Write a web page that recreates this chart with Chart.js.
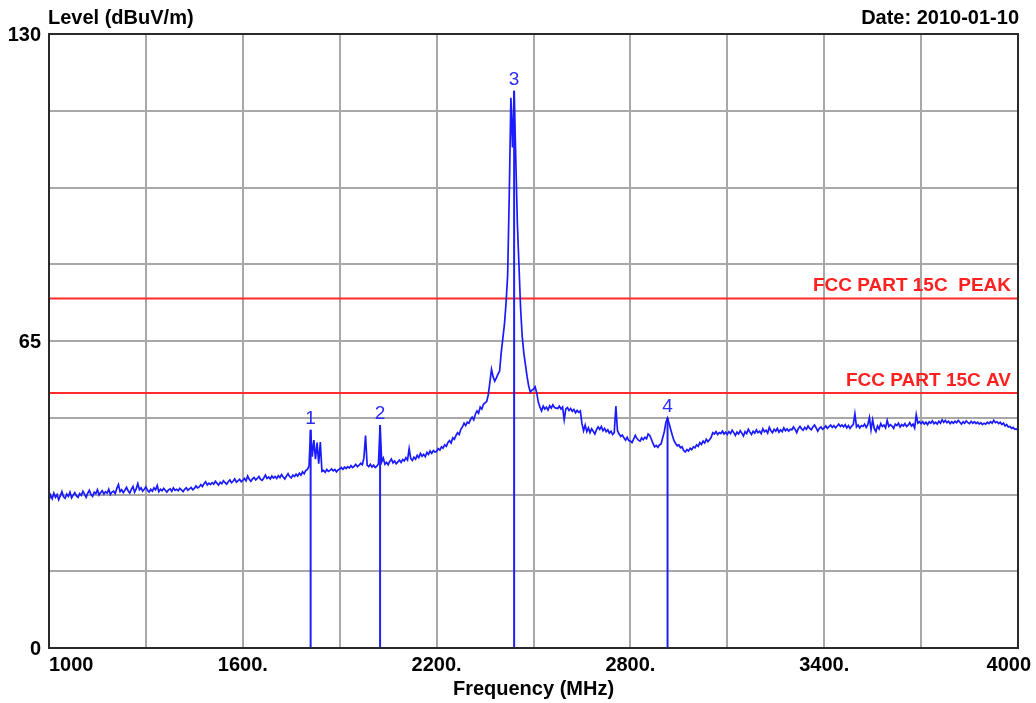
<!DOCTYPE html>
<html>
<head>
<meta charset="utf-8">
<script src="https://cdn.jsdelivr.net/npm/chart.js@4.4.1/dist/chart.umd.min.js"></script>
<style>
  html, body { margin: 0; padding: 0; background: #ffffff; }
  #wrap { width: 1036px; height: 703px; position: relative; }
</style>
</head>
<body>
<div id="wrap"><canvas id="c" width="1036" height="703"></canvas></div>
<script>
// ---- data ----
const sweepStart = 1000;   // MHz
const sweepStep = 5;       // MHz, analyzer sweep grid
const levels = [
 31.2,32.4,31.6,32.8,31.9,32.5,31.4,32.2,33.1,32.0,31.7,32.6,32.1,33.0,31.8,32.4,32.9,32.2,31.9,32.7,
 32.3,33.2,32.6,31.9,32.8,33.4,32.5,32.1,33.0,32.7,33.5,32.4,32.9,33.3,32.6,33.1,32.8,33.6,32.5,33.0,
 33.2,32.7,33.8,34.6,33.1,33.5,32.9,33.4,34.0,33.3,32.8,33.6,34.2,33.0,33.7,34.8,33.5,33.9,33.2,33.6,
 34.1,33.4,33.0,33.6,33.2,33.9,33.5,34.4,33.1,33.6,33.3,33.8,33.4,33.0,33.5,33.7,33.2,33.9,33.4,33.6,
 33.3,33.8,33.5,33.1,33.6,33.9,33.4,33.7,34.0,33.5,33.8,34.3,33.9,34.1,34.6,34.2,34.8,35.2,34.5,34.9,
 34.6,35.0,34.7,35.3,34.9,34.5,35.1,34.8,35.4,35.0,34.7,35.2,35.6,35.0,35.3,35.8,35.1,35.4,35.7,35.2,
 35.5,35.9,35.4,36.4,35.7,35.3,35.8,36.1,35.6,35.9,36.3,35.7,35.5,36.0,36.6,35.9,36.2,35.8,36.4,36.0,
 36.3,35.9,36.5,36.1,36.7,36.2,35.8,36.4,36.9,36.3,36.0,36.6,36.3,36.8,36.4,37.0,36.6,37.3,36.9,37.6,
 37.8,38.5,46.2,40.5,44.0,40.0,43.5,39.0,43.6,37.4,37.6,37.2,37.8,37.4,37.6,37.9,37.5,37.8,37.3,37.7,
 37.9,38.2,37.8,38.3,38.0,38.4,38.1,38.6,38.2,38.5,38.9,38.4,38.7,39.1,38.8,40.2,45.0,38.7,38.4,38.9,
 38.3,38.7,38.2,38.5,39.0,47.2,39.4,40.2,38.9,39.3,38.8,39.5,40.0,39.2,39.6,39.0,39.4,39.8,39.3,39.9,
 39.6,40.3,39.8,42.2,40.1,39.7,40.4,40.0,40.8,40.3,41.2,40.6,41.0,40.5,41.4,41.0,41.7,41.2,41.8,41.5,
 41.6,42.2,41.9,42.6,42.3,43.0,42.7,43.5,43.9,43.4,44.5,44.2,45.0,45.6,45.2,46.3,46.8,47.6,47.1,47.8,
 47.6,48.4,48.9,48.3,49.5,50.2,49.7,51.0,50.6,51.6,51.9,52.2,53.6,56.3,59.0,57.4,56.5,57.2,58.0,58.6,
 62.5,65.5,68.5,73.0,79.0,96.0,116.5,106.0,118.0,104.0,90.0,81.0,72.0,66.0,62.5,60.0,57.5,55.5,54.2,54.6,
 54.8,55.3,54.0,52.0,51.0,50.2,51.2,50.6,51.0,50.4,51.3,50.8,51.5,50.9,50.8,50.7,51.2,50.6,51.0,48.3,
 50.6,50.9,50.3,50.7,50.1,50.5,49.8,50.3,49.9,50.2,47.5,46.0,47.2,45.8,46.6,45.6,46.4,45.9,45.3,46.2,
 46.8,46.3,46.9,46.0,46.5,45.8,46.2,45.5,45.9,45.2,45.6,51.2,46.0,45.3,44.8,45.1,44.5,44.0,44.6,43.9,
 43.8,43.5,44.2,45.0,44.4,44.0,43.8,44.5,44.1,44.6,44.3,45.3,45.0,44.2,43.3,42.6,42.9,42.5,43.0,43.2,
 44.5,45.8,47.8,48.7,47.5,46.2,45.0,43.9,43.3,42.8,43.0,42.4,42.6,41.8,41.5,42.0,41.7,42.3,42.0,42.6,
 42.4,43.0,42.7,43.5,43.1,43.8,43.4,44.2,43.7,44.1,44.6,45.6,45.3,45.8,45.2,45.6,45.4,45.9,45.3,45.7,
 45.2,45.8,45.4,46.1,45.6,45.0,45.7,45.3,46.0,45.5,44.9,45.8,45.4,46.3,45.7,45.2,45.9,45.5,46.2,45.6,
 45.9,45.4,46.4,45.8,46.1,45.5,46.7,46.0,45.6,46.3,45.9,46.5,45.7,46.2,45.8,46.6,46.0,46.4,45.9,46.3,
 46.2,46.8,46.3,45.6,46.5,46.9,46.4,46.1,46.7,46.3,47.0,46.5,46.2,46.8,47.2,46.6,45.9,46.5,46.8,46.3,
 46.6,47.0,46.5,46.9,47.2,46.7,47.1,46.6,47.0,47.4,46.9,47.2,46.8,47.3,46.6,47.1,46.5,47.0,47.3,49.6,
 46.8,47.2,46.6,47.1,46.9,47.4,46.7,47.3,48.8,46.2,48.3,46.5,45.8,47.0,46.4,47.5,46.9,47.2,46.6,48.2,
 46.9,47.3,47.0,46.5,47.4,47.1,47.6,46.8,47.3,47.0,47.5,46.9,47.2,47.7,47.0,47.4,46.6,49.4,47.6,47.9,
 47.5,47.9,47.4,47.8,47.3,47.9,47.6,48.1,47.5,47.8,47.4,48.0,47.6,48.3,47.8,48.2,47.7,48.0,47.5,47.9,
 47.6,48.0,47.7,48.2,47.8,47.4,47.9,47.6,48.1,47.7,47.5,48.0,47.6,47.9,47.5,47.8,47.4,47.7,47.3,47.6,
 47.4,47.8,47.5,47.9,47.6,48.2,47.7,47.9,47.5,47.8,47.3,47.6,47.0,47.3,46.8,46.9,46.5,46.7,46.3,46.4,
 46.1
];
const markerNames = ['1', '2', '3', '4'];
const markerFreqs = [1810, 2025, 2440, 2915];
const markerLevels = [46.2, 47.2, 118.0, 48.7];
const limitNames = ['FCC PART 15C  PEAK', 'FCC PART 15C AV'];
const limitLevels = [74, 54];
const xTickValues = [1000, 1600, 2200, 2800, 3400, 4000];
const xTickLabels = ['1000', '1600.', '2200.', '2800.', '3400.', '4000'];
const yTickValues = [0, 65, 130];
const yTickLabels = ['0', '65', '130'];
const yTitle = 'Level (dBuV/m)';
const xTitle = 'Frequency (MHz)';
const dateText = 'Date: 2010-01-10';

// ---- build datasets ----
const tracePoints = levels.map((v, i) => ({ x: sweepStart + i * sweepStep, y: v }));
const datasets = [];
limitLevels.forEach((lv) => {
  datasets.push({
    data: [{ x: 1000, y: lv }, { x: 4000, y: lv }],
    borderColor: '#ff2a2a', borderWidth: 2, pointRadius: 0, tension: 0, order: 3
  });
});
markerFreqs.forEach((f, i) => {
  datasets.push({
    data: [{ x: f, y: 0 }, { x: f, y: markerLevels[i] }],
    borderColor: '#2020ff', borderWidth: 2, pointRadius: 0, tension: 0, order: 2
  });
});
datasets.push({
  data: tracePoints,
  borderColor: '#1a1aff', borderWidth: 1.7, pointRadius: 0, tension: 0, order: 1
});

const FONT = '"Liberation Sans", Arial, sans-serif';

const decorPlugin = {
  id: 'decor',
  afterDraw(chart) {
    const ctx = chart.ctx;
    const xs = chart.scales.x, ys = chart.scales.y;
    const a = chart.chartArea;
    ctx.save();
    // frame
    ctx.strokeStyle = '#2a2a2a';
    ctx.lineWidth = 2;
    ctx.strokeRect(a.left, a.top, a.right - a.left, a.bottom - a.top);

    // y tick labels
    ctx.fillStyle = '#000';
    ctx.font = 'bold 20px ' + FONT;
    ctx.textAlign = 'right';
    ctx.textBaseline = 'middle';
    yTickValues.forEach((v, i) => {
      ctx.fillText(yTickLabels[i], a.left - 8, ys.getPixelForValue(v) + 1);
    });
    // x tick labels
    ctx.textBaseline = 'alphabetic';
    xTickValues.forEach((v, i) => {
      const px = xs.getPixelForValue(v);
      if (i === 0) { ctx.textAlign = 'left'; ctx.fillText(xTickLabels[i], px, 671); }
      else if (i === xTickValues.length - 1) { ctx.textAlign = 'right'; ctx.fillText(xTickLabels[i], px + 13, 671); }
      else { ctx.textAlign = 'center'; ctx.fillText(xTickLabels[i], px, 671); }
    });
    // titles
    ctx.textAlign = 'center';
    ctx.fillText(xTitle, (a.left + a.right) / 2, 695);
    ctx.textAlign = 'left';
    ctx.fillText(yTitle, a.left - 1, 24);
    ctx.textAlign = 'right';
    ctx.fillText(dateText, a.right + 1, 24);

    // limit labels
    ctx.font = 'bold 19px ' + FONT;
    ctx.fillStyle = '#ff2020';
    limitLevels.forEach((lv, i) => {
      ctx.fillText(limitNames[i], a.right - 7, ys.getPixelForValue(lv) - 7);
    });

    // marker labels
    ctx.fillStyle = '#2a2aff';
    ctx.font = '19px ' + FONT;
    ctx.textAlign = 'center';
    markerFreqs.forEach((f, i) => {
      ctx.fillText(markerNames[i], xs.getPixelForValue(f), ys.getPixelForValue(markerLevels[i]) - 6);
    });
    ctx.restore();
  }
};

new Chart(document.getElementById('c'), {
  type: 'line',
  data: { datasets },
  options: {
    responsive: false,
    animation: false,
    layout: { padding: { left: 49, right: 18, top: 34, bottom: 55 } },
    plugins: { legend: { display: false }, tooltip: { enabled: false }, title: { display: false } },
    scales: {
      x: {
        type: 'linear', min: 1000, max: 4000,
        ticks: { display: false, stepSize: 300 },
        grid: { color: '#a8a8a8', lineWidth: 2, drawTicks: false },
        border: { display: false }
      },
      y: {
        type: 'linear', min: 0, max: 130,
        ticks: { display: false, stepSize: 16.25 },
        grid: { color: '#a8a8a8', lineWidth: 2, drawTicks: false },
        border: { display: false }
      }
    }
  },
  plugins: [decorPlugin]
});
</script>
</body>
</html>
